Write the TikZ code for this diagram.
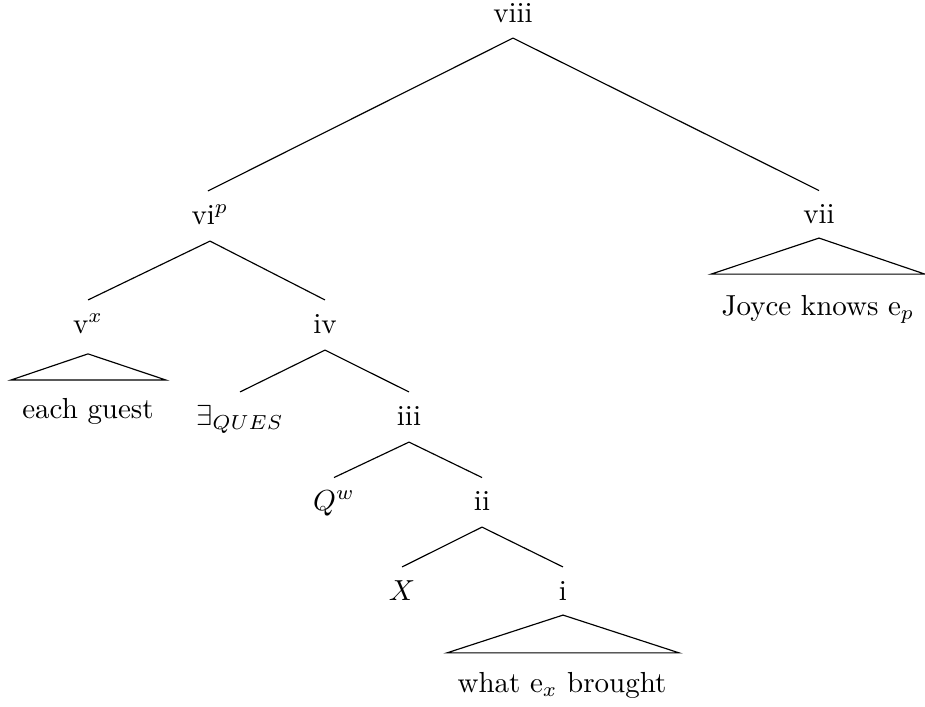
\documentclass[tikz,border=0pt]{standalone}
\usepackage{amsmath, amssymb}
\usepackage{tikz}
\usetikzlibrary{positioning}

\tikzset{lbl/.style={anchor=base, inner sep=0pt}}

\begin{document}
\begin{tikzpicture}[x=0.345pt, y=-0.345pt]
            \useasboundingbox (0,0) rectangle (925,706);
            \node (viii) [lbl] at (513,23) {viii};
            \node (vip) [lbl] at (210,224) {vi$^p$};
            \node (vii) [lbl] at (819,223) {vii};
            \node (joyce) [lbl] at (818,315) {Joyce knows e$_p$};
            \node (vx) [lbl] at (88,333) {v$^x$};
            \node (iv) [lbl] at (325,333) {iv};
            \node (guest) [lbl] at (88,418) {each guest};
            \node (exq) [lbl] at (240,425) {$\exists_{QUES}$};
            \node (iii) [lbl] at (409,425) {iii};
            \node (qw) [lbl] at (334,510) {$Q^w$};
            \node (ii) [lbl] at (482,510) {ii};
            \node (X) [lbl] at (402,600) {$X$};
            \node (i) [lbl] at (563,600) {i};
            \node (what) [lbl] at (562,692) {what e$_x$ brought};
            % branches
            \draw ([yshift=-5.2pt]viii.base) -- ([xshift=-0.7pt,yshift=11.4pt]vip.base);
            \draw ([yshift=-5.2pt]viii.base) -- ([yshift=11.2pt]vii.base);
            \draw ([yshift=-5.9pt]vip.base) -- ([yshift=11.4pt]vx.base);
            \draw ([yshift=-5.9pt]vip.base) -- ([yshift=11.4pt]iv.base);
            \draw ([yshift=-5.9pt]iv.base) -- ([yshift=11.4pt]exq.base);
            \draw ([yshift=-5.9pt]iv.base) -- ([yshift=11.4pt]iii.base);
            \draw ([yshift=-5.9pt]iii.base) -- ([yshift=11.2pt]qw.base);
            \draw ([yshift=-5.9pt]iii.base) -- ([yshift=11.2pt]ii.base);
            \draw ([yshift=-5.9pt]ii.base) -- ([yshift=11.4pt]X.base);
            \draw ([yshift=-5.9pt]ii.base) -- ([yshift=11.4pt]i.base);
            % triangles
            \draw ([yshift=-5.2pt]vii.base) -- ([xshift=-36.9pt,yshift=14.1pt]joyce.base)
                -- ([xshift=36.9pt,yshift=14.1pt]joyce.base) -- cycle;
            \draw ([yshift=-7.2pt]vx.base) -- ([xshift=-26.6pt,yshift=13.1pt]guest.base)
                -- ([xshift=26.9pt,yshift=13.1pt]guest.base) -- cycle;
            \draw ([yshift=-5.2pt]i.base) -- ([xshift=-39.7pt,yshift=13.5pt]what.base)
                -- ([xshift=40.4pt,yshift=13.5pt]what.base) -- cycle;
        \end{tikzpicture}
\end{document}
